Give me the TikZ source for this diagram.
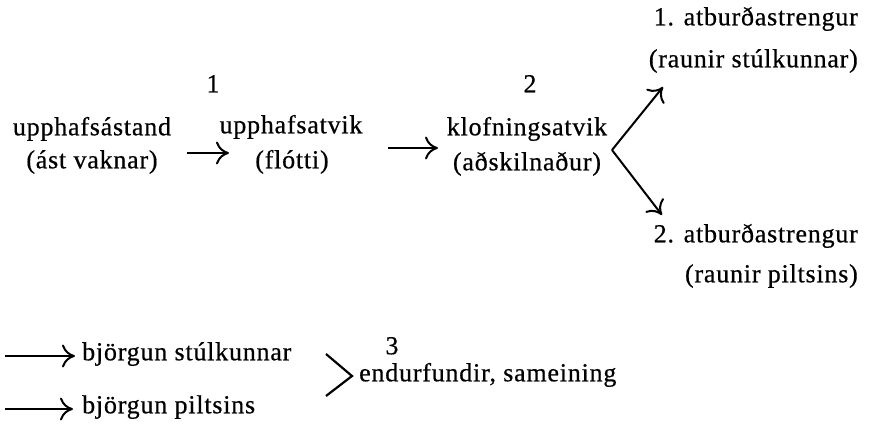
\documentclass[tikz,border=0pt]{standalone}
\usepackage{fontspec}
\setmainfont{Liberation Serif}[FakeBold=0.6,LetterSpace=3]
\usetikzlibrary{arrows.meta}
\begin{document}
\begin{tikzpicture}[x=1pt,y=-1pt,
  lbl/.style={inner sep=0pt,font=\fontsize{26}{30}\selectfont},
  arr/.style={line width=2pt,-{Computer Modern Rightarrow[length=13pt,width=23pt,line width=2pt]}},
  bar/.style={line width=2.2pt}]
\useasboundingbox (0,0) rectangle (871,444);
% numbered stages
\node[lbl,anchor=mid] (n1) at (213,90) {1};
\node[lbl,anchor=mid] (n2) at (530,90) {2};
\node[lbl,anchor=mid] (n3) at (392,352) {3};
% main chain
\node[lbl,anchor=mid] (a1) at (92,133) {upphafsástand};
\node[lbl,anchor=mid] (a2) at (92,166) {(ást vaknar)};
\node[lbl,anchor=mid] (b1) at (291,131) {upphafsatvik};
\node[lbl,anchor=mid] (b2) at (292,166) {(flótti)};
\node[lbl,anchor=mid] (c1) at (527,133) {klofningsatvik};
\node[lbl,anchor=mid] (c2) at (527,168) {(aðskilnaður)};
% the two strands
\node[lbl,anchor=mid east] (s1) at (858,23) {1. atburðastrengur};
\node[lbl,anchor=mid east] (s1b) at (858,65) {(raunir stúlkunnar)};
\node[lbl,anchor=mid east] (s2) at (858,240) {2. atburðastrengur};
\node[lbl,anchor=mid east] (s2b) at (858,280) {(raunir piltsins)};
% rescues and reunion
\node[lbl,anchor=mid west] (r1) at (82,358) {björgun stúlkunnar};
\node[lbl,anchor=mid west] (r2) at (82,411) {björgun piltsins};
\node[lbl,anchor=mid west] (e) at (359,379) {endurfundir, sameining};
% arrow end points
\coordinate (p1s) at (187,153); \coordinate (p1e) at (229,153);
\coordinate (p2s) at (388,148); \coordinate (p2e) at (438,148);
\coordinate (fork) at (612,150);
\coordinate (fu) at (663,87); \coordinate (fd) at (662,215);
\coordinate (q1) at (5,356); \coordinate (q2) at (5,409);
\coordinate (jt) at (326,354); \coordinate (jv) at (352,376); \coordinate (jb) at (326,396);
% connectors
\draw[arr] (p1s) -- (p1e);
\draw[arr] (p2s) -- (p2e);
\draw[arr] (fork) -- (fu);
\draw[arr] (fork) -- (fd);
\draw[arr] (q1) -- ([xshift=-7pt]q1 -| r1.west);
\draw[arr] (q2) -- ([xshift=-9pt]q2 -| r2.west);
\draw[bar] (jt) -- (jv) -- (jb);
\end{tikzpicture}
\end{document}
